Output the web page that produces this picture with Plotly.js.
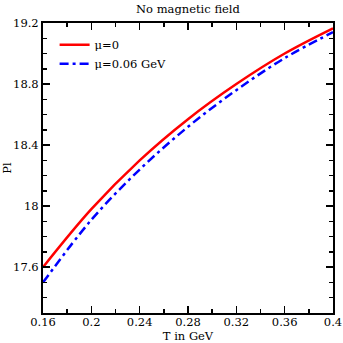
<!DOCTYPE html>
<html>
<head>
<meta charset="utf-8">
<script src="https://cdn.plot.ly/plotly-3.0.1.min.js"></script>
<style>
  html, body { margin: 0; padding: 0; background: #fff; }
  #chart { width: 343px; height: 343px; }
</style>
</head>
<body>
<div id="chart"></div>
<script>
// temperature in GeV
const temps = [0.16, 0.20, 0.24, 0.28, 0.32, 0.36, 0.40];
// Pl for mu = 0 and mu = 0.06 GeV
const plMu0 = [17.60, 17.98, 18.30, 18.57, 18.80, 19.00, 19.165];
const plMu006 = [17.50, 17.91, 18.24, 18.52, 18.76, 18.97, 19.14];

const serif = 'DejaVu Serif, serif';

const axisCommon = {
  showline: true,
  linecolor: '#000',
  linewidth: 2,
  mirror: 'allticks',
  ticks: 'inside',
  ticklen: 7,
  tickwidth: 1.5,
  tickcolor: '#000',
  showgrid: false,
  zeroline: false,
  tickfont: { family: serif, size: 11.5, color: '#000' },
};

Plotly.newPlot('chart', [
  {
    x: temps,
    y: plMu0,
    name: 'μ=0',
    type: 'scatter',
    mode: 'lines',
    line: { color: '#ff0000', width: 2.5, shape: 'spline' },
  },
  {
    x: temps,
    y: plMu006,
    name: 'μ=0.06 GeV',
    type: 'scatter',
    mode: 'lines',
    line: { color: '#0000ff', width: 2.5, shape: 'spline', dash: '9px,4px,3px,4px' },
  },
], {
  width: 343,
  height: 343,
  font: { family: serif },
  title: {
    text: 'No magnetic field',
    font: { family: serif, size: 11.5, color: '#000' },
    x: 0.548,
    xanchor: 'center',
    y: 0.975,
    yanchor: 'middle',
  },
  xaxis: Object.assign({}, axisCommon, {
    range: [0.16, 0.4],
    tick0: 0,
    dtick: 0.04,
    ticklabelstandoff: -3,
    minor: { dtick: 0.02, ticks: 'inside', ticklen: 4, tickcolor: '#000', tickwidth: 1.5 },
    title: { text: 'T in GeV', font: { family: serif, size: 11.5, color: '#000' }, standoff: 1 },
  }),
  yaxis: Object.assign({}, axisCommon, {
    range: [17.3, 19.2],
    tick0: 17.6,
    dtick: 0.4,
    minor: { dtick: 0.1, ticks: 'inside', ticklen: 4, tickcolor: '#000', tickwidth: 1.5 },
    title: { text: 'Pl', font: { family: serif, size: 11.5, color: '#000' }, standoff: 7 },
  }),
  legend: {
    x: 0.04,
    y: 0.975,
    xanchor: 'left',
    yanchor: 'top',
    bgcolor: 'rgba(0,0,0,0)',
    font: { family: serif, size: 11.5, color: '#000' },
    itemwidth: 30,
    tracegroupgap: 0,
  },
  showlegend: true,
  margin: { t: 23, r: 10, l: 43, b: 30 },
  paper_bgcolor: '#ffffff',
  plot_bgcolor: '#ffffff',
}, { displayModeBar: false, staticPlot: true });
</script>
</body>
</html>
